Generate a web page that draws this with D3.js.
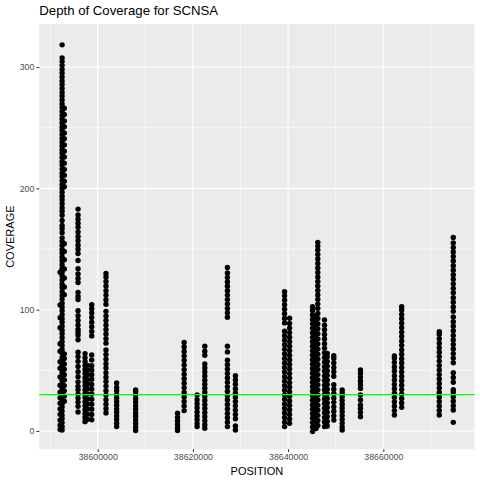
<!DOCTYPE html>
<html>
<head>
<meta charset="utf-8">
<script src="https://cdn.jsdelivr.net/npm/d3@7"></script>
<style>
  html, body { margin: 0; padding: 0; background: #fff; }
  text { font-family: "Liberation Sans", Arial, Helvetica, sans-serif; }
</style>
</head>
<body>
<svg id="chart" width="480" height="480"></svg>
<script>
// ---- data ----
const chartTitle = "Depth of Coverage for SCNSA";
const xTitle = "POSITION";
const yTitle = "COVERAGE";
const xMajorTicks = [38600000, 38620000, 38640000, 38660000];
const xMinorTicks = [38590000, 38610000, 38630000, 38650000, 38670000];
const yMajorTicks = [0, 100, 200, 300];
const yMinorTicks = [50, 150, 250];
const threshold = 30;

// genomic position of each column of points
const columnPositions = [
  38592520, 38592980, 38592100,            // A (3 sub-columns)
  38595870,                                // B
  38597340, 38597860, 38598740,            // C
  38601740, 38603980, 38607970,            // D E F
  38616770, 38618160, 38620880, 38622500,  // G H I J
  38627250, 38628930,                      // K L
  38639260, 38640310,                      // M N
  38645130, 38645870, 38646240,            // O1 O2 P
  38647650, 38648220, 38649600, 38651360,  // Q R S T
  38655200, 38662330, 38663860,            // U V W
  38671760, 38674700                       // X Y
];

// coverage readings per column
const columnCoverage = [
  // A1
  [0.8, 3.6, 6.9, 10.2, 13.1, 16.4, 19.8, 22.7, 25.9, 29.1, 32.4, 35.2, 38.6, 41.9, 44.8, 48.1, 51.3, 54.6, 57.5, 60.7, 64.1, 67.2, 70.4, 73.5, 76.8, 80.1, 83.0, 86.3, 89.6, 92.5, 95.8, 99.1, 102.2, 105.4, 108.7, 111.6, 114.9, 118.2, 121.1, 124.4, 127.7, 130.6, 133.9, 137.1, 140.3, 143.5, 146.8, 149.7, 153.0, 156.3, 159.2, 163.5, 166.8, 169.4, 173.6, 177.9, 181.2, 184.1, 187.4, 190.7, 193.6, 196.9, 200.2, 203.1, 206.4, 209.7, 212.6, 215.9, 219.2, 222.1, 225.4, 228.7, 231.6, 234.9, 238.2, 241.1, 244.4, 247.7, 250.6, 253.9, 257.2, 260.1, 263.4, 266.7, 269.6, 272.9, 276.2, 279.1, 282.4, 285.7, 288.6, 291.9, 295.2, 298.1, 301.4, 304.7, 307.6, 318.3],
  // A2
  [24.5, 28.8, 33.1, 37.4, 42.0, 46.3, 50.9, 55.2, 59.8, 63.6, 112.4, 118.7, 126.1, 133.5, 141.2, 148.0, 154.3, 201.3, 205.9, 210.8, 215.6, 220.7, 225.9, 230.6, 235.8, 240.9, 245.7, 250.8, 255.6, 260.9, 266.1],
  // A3
  [1.2, 4.8, 8.9, 13.7, 18.2, 22.9, 27.4, 32.0, 37.8, 44.6, 51.7, 57.1, 65.8, 71.9, 85.2, 93.4, 103.8, 130.9],
  // B
  [15.6, 20.3, 23.8, 27.1, 30.4, 33.9, 36.8, 40.5, 44.7, 48.9, 53.2, 57.4, 61.3, 65.0, 75.2, 78.9, 81.4, 83.6, 87.3, 91.1, 95.0, 99.2, 108.3, 110.9, 114.1, 122.4, 125.8, 129.5, 133.7, 140.6, 146.3, 149.8, 153.2, 156.9, 160.4, 164.1, 167.9, 171.2, 174.6, 178.1, 182.9],
  // C1
  [7.7, 10.9, 14.2, 17.6, 20.8, 24.1, 27.5, 30.7, 34.0, 37.4, 40.6, 43.9, 47.3, 50.5, 53.8, 57.2, 60.4, 63.8],
  // C1b
  [9.6, 13.8, 18.1, 22.3, 26.4, 30.6, 34.9, 38.7, 42.2, 46.5, 50.3, 54.1],
  // C2
  [9.2, 13.6, 17.9, 22.1, 26.2, 30.4, 34.5, 38.3, 42.6, 46.4, 50.1, 53.8, 58.6, 62.7, 78.4, 82.1, 86.0, 89.7, 93.5, 97.2, 100.8, 104.1],
  // D
  [14.9, 18.3, 22.1, 25.7, 29.6, 33.2, 37.0, 40.8, 44.3, 48.1, 51.9, 55.4, 59.2, 63.0, 66.7, 72.4, 76.1, 79.9, 83.6, 87.3, 91.1, 94.8, 98.6, 104.5, 108.2, 112.0, 115.7, 119.5, 123.2, 126.9, 129.8],
  // E
  [3.6, 6.4, 9.5, 12.3, 15.4, 18.2, 21.3, 24.1, 27.2, 30.0, 33.1, 35.9, 39.5],
  // F
  [0.3, 3.1, 6.2, 9.0, 12.1, 14.9, 18.0, 20.8, 23.9, 26.7, 29.8, 32.6, 33.8],
  // G
  [0.3, 2.6, 5.4, 8.3, 11.4, 14.6],
  // H
  [16.8, 20.6, 24.3, 28.1, 31.8, 35.6, 39.3, 43.1, 46.8, 50.6, 54.3, 58.1, 61.8, 65.6, 69.3, 73.0],
  // I
  [3.6, 6.1, 9.2, 12.4, 15.7, 19.1, 22.4, 25.8, 29.7],
  // J
  [2.2, 5.1, 8.4, 11.8, 15.1, 18.5, 21.8, 25.2, 28.5, 31.9, 35.2, 38.6, 41.9, 45.3, 48.6, 52.0, 55.3, 62.4, 65.8, 69.9],
  // K
  [3.6, 7.2, 10.9, 14.5, 18.2, 21.8, 25.5, 29.1, 32.8, 36.4, 40.1, 43.7, 47.4, 51.0, 54.7, 58.3, 65.2, 69.8, 93.7, 97.4, 101.0, 104.7, 108.3, 112.0, 115.6, 119.3, 122.9, 126.6, 130.2, 134.8],
  // L
  [0.8, 4.2, 10.1, 13.6, 17.2, 20.7, 24.3, 27.8, 31.4, 34.9, 38.5, 42.0, 45.6],
  // M
  [3.6, 7.3, 11.1, 14.8, 18.6, 22.3, 26.1, 29.8, 33.6, 37.3, 41.1, 44.8, 48.6, 52.3, 56.1, 59.8, 63.6, 67.3, 71.1, 74.8, 78.6, 82.3, 89.1, 92.8, 96.6, 100.3, 104.1, 107.8, 111.4, 114.8],
  // N
  [6.3, 9.8, 13.6, 17.3, 21.1, 24.8, 28.6, 32.3, 36.1, 39.8, 43.6, 47.3, 51.1, 54.8, 58.6, 62.3, 66.1, 69.8, 73.6, 77.3, 81.1, 84.8, 88.6, 92.9],
  // O1
  [-0.5, 3.2, 6.9, 10.6, 14.3, 18.0, 21.7, 25.4, 29.1, 32.8, 36.5, 40.2, 43.9, 47.6, 51.3, 55.0, 58.7, 62.4, 66.1, 69.8, 73.5, 77.2, 80.9, 84.6, 88.3, 92.0, 95.7, 99.4, 102.5],
  // O2
  [2.1, 5.8, 9.5, 13.2, 16.9, 20.6, 24.3, 28.0, 31.7, 35.4, 39.1, 42.8, 46.5, 50.2, 53.9, 57.6, 61.3, 65.0, 68.7, 72.4, 76.1, 79.8, 83.5, 87.2, 90.9, 94.8],
  // P
  [4.5, 8.7, 12.9, 17.1, 21.3, 25.5, 29.7, 33.9, 38.1, 42.3, 46.5, 50.7, 54.9, 59.1, 63.3, 67.5, 71.7, 75.9, 80.1, 84.3, 88.5, 92.7, 96.9, 101.1, 104.8, 108.5, 112.2, 115.9, 119.6, 123.3, 127.0, 130.7, 134.4, 138.1, 141.8, 145.5, 149.2, 152.4, 155.5],
  // Q
  [3.6, 7.4, 11.2, 15.0, 18.8, 22.6, 26.4, 30.2, 34.0, 37.8, 41.6, 45.4, 49.2, 53.0, 56.8, 60.6, 64.4, 68.2, 72.0, 75.8, 79.6, 83.4, 87.2, 91.5],
  // R
  [4.1, 7.9, 11.7, 15.5, 19.3, 23.1, 26.9, 30.7, 34.5, 38.3, 42.1, 45.9, 49.7, 53.5, 57.3, 61.1, 64.0],
  // S
  [9.0, 12.6, 16.3, 19.9, 23.6, 27.2, 30.9, 34.5, 38.2, 45.1, 48.8, 52.4, 56.1, 59.7, 62.0],
  // T
  [0.8, 3.4, 6.5, 9.6, 12.7, 15.8, 18.9, 22.0, 25.1, 28.2, 31.3, 33.8],
  // U
  [11.8, 15.2, 18.6, 21.4, 25.5, 29.7, 35.1, 38.2, 41.3, 44.4, 47.5, 50.3],
  // V
  [13.2, 16.8, 20.4, 24.0, 27.6, 31.2, 34.8, 38.4, 42.0, 45.6, 49.2, 52.8, 56.4, 60.0, 61.8],
  // W
  [19.5, 23.1, 26.8, 30.4, 34.1, 37.7, 41.4, 45.0, 48.7, 52.3, 56.0, 59.6, 63.3, 66.9, 70.6, 74.2, 77.9, 81.5, 85.2, 88.8, 92.5, 96.1, 99.8, 102.5],
  // X
  [13.2, 16.9, 20.6, 24.3, 28.0, 31.7, 35.4, 39.1, 42.8, 46.5, 50.2, 53.9, 57.6, 61.3, 65.0, 68.7, 72.4, 76.1, 79.8, 81.8],
  // Y
  [7.1, 17.3, 20.8, 24.6, 28.3, 32.1, 34.0, 40.2, 44.1, 48.0, 56.3, 60.1, 63.8, 67.6, 71.3, 75.1, 78.8, 82.6, 86.3, 90.1, 94.0, 98.6, 102.3, 106.1, 109.8, 114.0, 117.6, 121.3, 125.1, 128.8, 132.6, 136.3, 140.1, 143.8, 147.6, 151.3, 155.1, 159.6]
];

// ---- layout ----
const W = 480, H = 480;
const panel = { left: 39.3, right: 474.5, top: 24, bottom: 449.3 };

const svg = d3.select("#chart");
svg.append("rect").attr("width", W).attr("height", H).attr("fill", "#ffffff");

const x = d3.scaleLinear().domain([38587731, 38679158]).range([panel.left, panel.right]);
const y = d3.scaleLinear().domain([-15.1, 335.5]).range([panel.bottom, panel.top]);

// panel background
svg.append("rect")
  .attr("x", panel.left).attr("y", panel.top)
  .attr("width", panel.right - panel.left).attr("height", panel.bottom - panel.top)
  .attr("fill", "#EBEBEB");

const grid = svg.append("g");
// minor grid
grid.selectAll("line.xminor").data(xMinorTicks).enter().append("line")
  .attr("x1", d => x(d)).attr("x2", d => x(d))
  .attr("y1", panel.top).attr("y2", panel.bottom)
  .attr("stroke", "#ffffff").attr("stroke-width", 0.53);
grid.selectAll("line.yminor").data(yMinorTicks).enter().append("line")
  .attr("y1", d => y(d)).attr("y2", d => y(d))
  .attr("x1", panel.left).attr("x2", panel.right)
  .attr("stroke", "#ffffff").attr("stroke-width", 0.53);
// major grid
grid.selectAll("line.xmajor").data(xMajorTicks).enter().append("line")
  .attr("x1", d => x(d)).attr("x2", d => x(d))
  .attr("y1", panel.top).attr("y2", panel.bottom)
  .attr("stroke", "#ffffff").attr("stroke-width", 1.07);
grid.selectAll("line.ymajor").data(yMajorTicks).enter().append("line")
  .attr("y1", d => y(d)).attr("y2", d => y(d))
  .attr("x1", panel.left).attr("x2", panel.right)
  .attr("stroke", "#ffffff").attr("stroke-width", 1.07);

// points
const points = [];
columnPositions.forEach((pos, i) => {
  columnCoverage[i].forEach(c => points.push({ pos: pos, cov: c }));
});
svg.append("g").selectAll("circle").data(points).enter().append("circle")
  .attr("cx", d => x(d.pos)).attr("cy", d => y(d.cov))
  .attr("r", 2.7).attr("fill", "#000000");

// threshold line
svg.append("line")
  .attr("x1", panel.left).attr("x2", panel.right)
  .attr("y1", y(threshold)).attr("y2", y(threshold))
  .attr("stroke", "#00FF00").attr("stroke-width", 1.1);

// axes
const xAxis = d3.axisBottom(x).tickValues(xMajorTicks).tickFormat(d3.format("d"))
  .tickSize(2.74).tickPadding(2.2);
const gx = svg.append("g").attr("transform", `translate(0,${panel.bottom})`).call(xAxis);
gx.select(".domain").remove();
gx.selectAll(".tick line").attr("stroke", "#333333").attr("stroke-width", 1.07);
gx.selectAll(".tick text").attr("fill", "#4D4D4D").style("font-size", "8.8px")
  .style("font-family", "'Liberation Sans', Arial, sans-serif");

const yAxis = d3.axisLeft(y).tickValues(yMajorTicks).tickFormat(d3.format("d"))
  .tickSize(2.74).tickPadding(2.2);
const gy = svg.append("g").attr("transform", `translate(${panel.left},0)`).call(yAxis);
gy.select(".domain").remove();
gy.selectAll(".tick line").attr("stroke", "#333333").attr("stroke-width", 1.07);
gy.selectAll(".tick text").attr("fill", "#4D4D4D").style("font-size", "8.8px")
  .style("font-family", "'Liberation Sans', Arial, sans-serif");

// titles
svg.append("text").attr("x", panel.left).attr("y", 15)
  .attr("fill", "#000").style("font-size", "13.2px").text(chartTitle);
svg.append("text").attr("x", (panel.left + panel.right) / 2).attr("y", 475)
  .attr("text-anchor", "middle").attr("fill", "#000").style("font-size", "11px").text(xTitle);
svg.append("text")
  .attr("transform", `translate(14,${(panel.top + panel.bottom) / 2}) rotate(-90)`)
  .attr("text-anchor", "middle").attr("fill", "#000").style("font-size", "11px").text(yTitle);
</script>
</body>
</html>
